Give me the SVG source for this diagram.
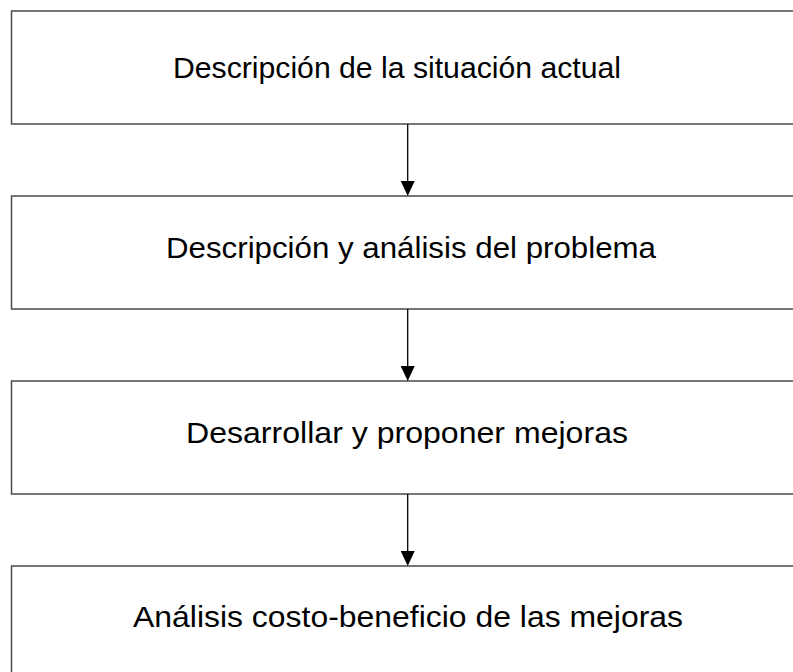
<svg xmlns="http://www.w3.org/2000/svg" width="793" height="672" viewBox="0 0 793 672">
<style>
.box{fill:#fff;stroke:#4a4a4a;stroke-width:1.5}
.lbl{font-family:"Liberation Sans",Arial,sans-serif;font-size:29px;fill:#000;text-anchor:middle}
.conn{stroke:#000;stroke-width:1.3;fill:none}
.head{fill:#000}
</style>
<rect width="793" height="672" fill="#fff"/>
<g id="n1"><rect class="box" x="11.5" y="11" width="800" height="113"/><text class="lbl" x="397" y="77.5" textLength="448" lengthAdjust="spacingAndGlyphs">Descripción de la situación actual</text></g>
<g id="n2"><rect class="box" x="11.5" y="196" width="800" height="113"/><text class="lbl" x="411" y="257.5" textLength="490" lengthAdjust="spacingAndGlyphs">Descripción y análisis del problema</text></g>
<g id="n3"><rect class="box" x="11.5" y="381" width="800" height="113"/><text class="lbl" x="407" y="442.5" textLength="442" lengthAdjust="spacingAndGlyphs">Desarrollar y proponer mejoras</text></g>
<g id="n4"><rect class="box" x="11.5" y="566" width="800" height="120"/><text class="lbl" x="408" y="627" textLength="550" lengthAdjust="spacingAndGlyphs">Análisis costo-beneficio de las mejoras</text></g>
<g id="connectors">
<line class="conn" x1="407.7" y1="124" x2="407.7" y2="182"/><polygon class="head" points="400.7,181 414.7,181 407.7,196"/>
<line class="conn" x1="407.7" y1="309" x2="407.7" y2="367"/><polygon class="head" points="400.7,366 414.7,366 407.7,381"/>
<line class="conn" x1="407.7" y1="494" x2="407.7" y2="552"/><polygon class="head" points="400.7,551 414.7,551 407.7,566"/>
</g>
</svg>
